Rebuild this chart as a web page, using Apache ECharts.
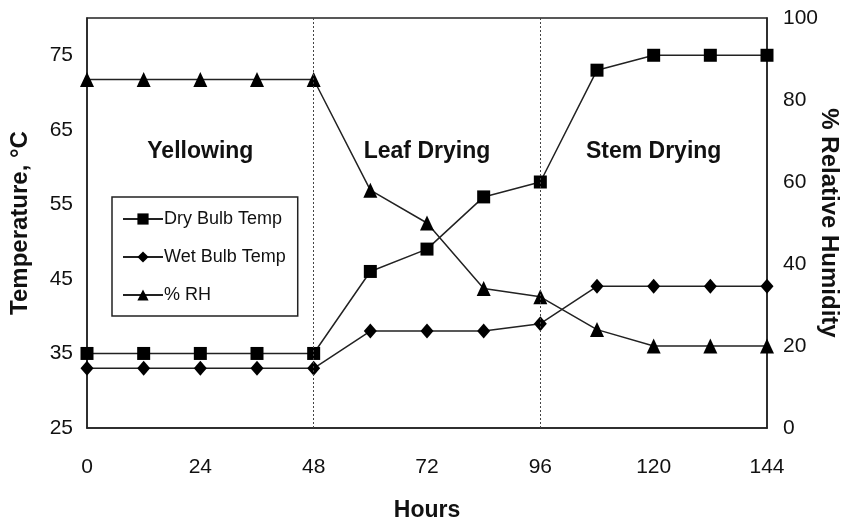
<!DOCTYPE html>
<html>
<head>
<meta charset="utf-8">
<script src="https://cdn.jsdelivr.net/npm/echarts@6/dist/echarts.min.js"></script>
<style>html,body{margin:0;padding:0;background:#fff}#c{width:844px;height:522px}</style>
</head>
<body>
<div id="c"></div>
<script>
var hours = [0, 12, 24, 36, 48, 60, 72, 84, 96, 108, 120, 132, 144];
var dryBulb = [35, 35, 35, 35, 35, 46, 49, 56, 58, 73, 75, 75, 75];
var wetBulb = [33, 33, 33, 33, 33, 38, 38, 38, 39, 44, 44, 44, 44];
var rh = [85, 85, 85, 85, 85, 58, 50, 34, 32, 24, 20, 20, 20];
var phaseBoundaries = [48, 96];
var phaseNames = ['Yellowing', 'Leaf Drying', 'Stem Drying'];
var seriesNames = ['Dry Bulb Temp', 'Wet Bulb Temp', '% RH'];

var SANS = '"Liberation Sans", Arial, sans-serif';
function pairs(ys){ return hours.map(function(h,i){ return [h, ys[i]]; }); }

var chart = echarts.init(document.getElementById('c'), null, {renderer:'canvas'});
var lineStyle = {color:'#222', width:1.5};
var option = {
  animation:false,
  backgroundColor:'#fff',
  grid:{left:87, right:77, top:18, bottom:94, outerBoundsMode:'none', containLabel:false,
        show:true, borderColor:'#222', borderWidth:1.5, backgroundColor:'transparent'},
  legend:{
    orient:'vertical', left:112, top:197, padding:[13,12,12,10],
    borderColor:'#222', borderWidth:1.5, backgroundColor:'#fff',
    itemWidth:40, itemHeight:14, itemGap:20,
    textStyle:{fontFamily:SANS, fontSize:18, color:'#111', padding:[0,0,0,-4]},
    data:seriesNames
  },
  xAxis:{
    type:'value', min:0, max:144, interval:24,
    name:'Hours', nameLocation:'middle', nameGap:71, nameMoveOverlap:false,
    nameTextStyle:{fontFamily:SANS, fontWeight:'bold', fontSize:23, color:'#111'},
    axisLine:{show:true, lineStyle:{color:'#222', width:1.5}},
    axisTick:{show:false}, splitLine:{show:false},
    axisLabel:{fontFamily:SANS, fontSize:21, color:'#111', margin:29}
  },
  yAxis:[{
    type:'value', min:25, max:80, interval:10, position:'left',
    name:'Temperature, °C', nameLocation:'middle', nameRotate:90, nameGap:55, nameMoveOverlap:false,
    nameTextStyle:{fontFamily:SANS, fontWeight:'bold', fontSize:24, color:'#111'},
    axisLine:{show:true, lineStyle:{color:'#222', width:1.5}},
    axisTick:{show:false}, splitLine:{show:false},
    axisLabel:{fontFamily:SANS, fontSize:21, color:'#111', margin:14, showMaxLabel:false}
  },{
    type:'value', min:0, max:100, interval:20, position:'right',
    name:'% Relative Humidity', nameLocation:'middle', nameRotate:-90, nameGap:50, nameMoveOverlap:false,
    nameTextStyle:{fontFamily:SANS, fontWeight:'bold', fontSize:24, color:'#111'},
    axisLine:{show:true, lineStyle:{color:'#222', width:1.5}},
    axisTick:{show:false}, splitLine:{show:false},
    axisLabel:{fontFamily:SANS, fontSize:21, color:'#111', margin:16}
  }],
  series:[{
    name:seriesNames[0], type:'line', yAxisIndex:0, data:pairs(dryBulb),
    symbol:'rect', symbolSize:13, itemStyle:{color:'#000'}, lineStyle:lineStyle,
    markLine:{
      silent:true, symbol:['none','none'], label:{show:false},
      lineStyle:{color:'#444', type:[2,2], width:1},
      data:phaseBoundaries.map(function(b){ return {xAxis:b}; })
    }
  },{
    name:seriesNames[1], type:'line', yAxisIndex:0, data:pairs(wetBulb),
    symbol:'diamond', symbolSize:[13,15], itemStyle:{color:'#000'}, lineStyle:lineStyle
  },{
    name:seriesNames[2], type:'line', yAxisIndex:1, data:pairs(rh),
    symbol:'triangle', symbolSize:[14,15], itemStyle:{color:'#000'}, lineStyle:lineStyle
  }]
};
chart.setOption(option);

var phaseStarts = [0].concat(phaseBoundaries);
var phaseEnds = phaseBoundaries.concat([144]);
var els = phaseNames.map(function(n, i){
  var xc = (phaseStarts[i] + phaseEnds[i]) / 2;
  var px = chart.convertToPixel({xAxisIndex:0}, xc);
  return {type:'text', x:px, y:152, style:{text:n, fill:'#111', font:'bold 23px ' + SANS, align:'center', verticalAlign:'middle'}};
});
chart.setOption({graphic:els});
</script>
</body>
</html>
